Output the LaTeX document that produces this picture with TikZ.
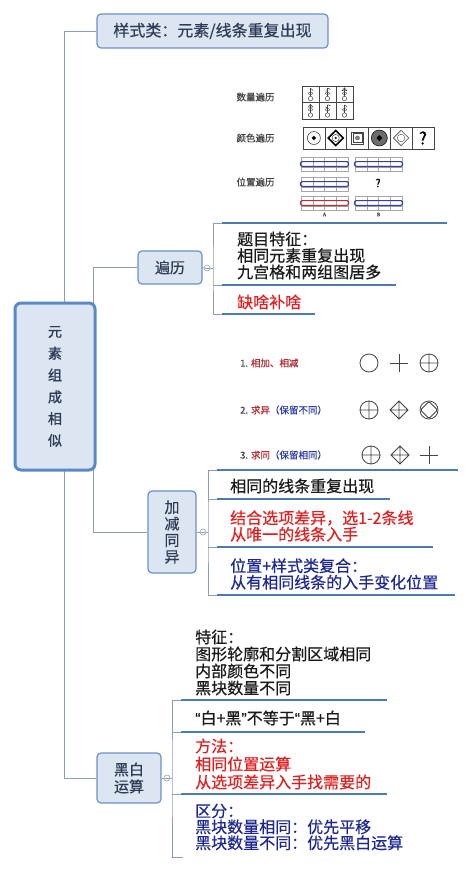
\documentclass[tikz,border=0pt]{standalone}
\usepackage{fontspec}
\setmainfont{Noto Sans CJK SC}[FakeBold=0.5]
\newfontfamily\cjkbold[FakeBold=1.3]{Noto Sans CJK SC}
\newfontfamily\quotefont[FakeBold=0.5]{Liberation Sans}
\definecolor{boxfill}{HTML}{DCE6F3}
\definecolor{boxline}{HTML}{6A92C6}
\definecolor{mainline}{HTML}{5B88C6}
\definecolor{boxtext}{HTML}{2F3B55}
\definecolor{ulcol}{HTML}{4E7AB2}
\definecolor{conncol}{HTML}{8D9DB5}
\definecolor{tred}{HTML}{E02020}
\definecolor{tblue}{HTML}{1C2890}
\definecolor{tblack}{HTML}{1A1A1A}
\definecolor{sred}{HTML}{B03038}
\definecolor{sblue}{HTML}{3A3F9A}
\definecolor{ink}{HTML}{444444}
\definecolor{smallblue}{HTML}{3040A0}
\begin{document}
\begin{tikzpicture}[x=1pt,y=-1pt,
  topic/.style={draw=boxline, fill=boxfill, rounded corners=4pt, line width=1.2pt,
    inner sep=0pt, text=boxtext, align=center},
  conn/.style={draw=conncol, line width=0.8pt},
  uline/.style={draw=ulcol, line width=2.4pt},
  collapse/.style={circle, draw=conncol, fill=white, line width=0.6pt, minimum size=6pt, inner sep=0pt,
    path picture={\draw[conncol, line width=0.5pt] ([xshift=1.3pt]path picture bounding box.west) -- ([xshift=-1.3pt]path picture bounding box.east);}},
  body/.style={anchor=west, inner sep=0pt, align=left, font=\fontsize{16}{16.5}\selectfont},
  small/.style={inner sep=0pt, font=\fontsize{9.5}{11}\selectfont, text=ink},
  sh/.style={draw=ink, line width=0.8pt},
  gline/.style={draw=gray!70, line width=0.35pt}]
\useasboundingbox (0,0) rectangle (474,872);

% ---------- main topics ----------
\node[topic, minimum width=231pt, minimum height=34pt, font=\fontsize{16}{18}\selectfont] (top) at (212.5,31) {样式类：元素/线条重复出现};
\node[topic, minimum width=64pt, minimum height=33pt, font=\fontsize{15}{17}\selectfont] (bl) at (170,267.5) {遍历};
\node[topic, minimum width=48pt, minimum height=82pt, font=\fontsize{15}{16.5}\selectfont] (jj) at (172,532) {加\\减\\同\\异};
\node[topic, minimum width=64pt, minimum height=50pt, font=\fontsize{15}{17}\selectfont] (bw) at (129,778) {黑白\\运算};

% trunk connectors (behind main box)
\draw[conn] (top.west) -- ++(-32,0) |- (bw.west);
\draw[conn] (bl.west) -- ++(-44,0) |- (jj.west);

\node[topic, draw=mainline, line width=3pt, rounded corners=6pt, minimum width=80pt, minimum height=167pt,
  font=\cjkbold\fontsize{14}{21.8}\selectfont] (main) at (55,386.5) {元\\素\\组\\成\\相\\似};

% ---------- 遍历 branch ----------
\node[collapse] (c1) at (207,268) {};
\draw[conn] (bl.east) -- (c1.west);
\coordinate (k1) at (213,268);
\coordinate (u1) at (222,223);
\coordinate (u2) at (222,285);
\coordinate (u3) at (222,314);
\draw[conn] (c1.east) -- (k1);
\draw[conn] (u1) -| (k1) |- (u3);
\draw[conn] (u2) -- (u2 -| k1);
\draw[uline] (u1) -- (447,223);
\draw[uline] (u2) -- (396,285);
\draw[uline] (u3) -- (315,314);

\node[body, text=tblack] (t11) at (237,255.5) {题目特征：\\相同元素重复出现\\九宫格和两组图居多};
\node[body, text=tred] (t12) at (237,302) {缺啥补啥};

% image of 遍历
\node[small] (l1) at (255.5,97) {数量遍历};
\node[small] (l2) at (255.5,138) {颜色遍历};
\node[small] (l3) at (255.5,182) {位置遍历};

\draw[draw=ink, line width=0.6pt] (302,86) rectangle (353,119);
\draw[draw=ink, line width=0.5pt] (319,86) -- (319,119) (336,86) -- (336,119) (302,102.5) -- (353,102.5);
\foreach \cx/\cy/\v in {310.5/94.25/0, 327.5/94.25/1, 344.5/94.25/2, 310.5/110.75/2, 327.5/110.75/1, 344.5/110.75/0} {
  \draw[ink, line width=0.5pt] (\cx,\cy+4.3) circle (2.2pt);
  \draw[ink, line width=0.5pt] (\cx,\cy+2.1) -- (\cx,\cy-6);
  \draw[ink, line width=0.5pt] (\cx,\cy-1) ellipse (2pt and 1.3pt);
  \ifnum\v=0 \draw[ink, line width=0.5pt] (\cx,\cy-6) -- (\cx+2.8,\cy-3.6); \fi
  \ifnum\v=1 \draw[ink, line width=0.5pt] (\cx,\cy-6) -- (\cx+3,\cy-5) (\cx-2,\cy-3.5) -- (\cx,\cy-3); \fi
  \ifnum\v=2 \draw[ink, line width=0.5pt] (\cx-2.5,\cy-3.5) -- (\cx,\cy-6.5) -- (\cx+2.5,\cy-3.5) -- cycle; \fi
}

\draw[draw=ink, line width=0.6pt] (303,127) rectangle (434,149);
\foreach \k in {1,...,5} \draw[draw=ink, line width=0.5pt] (303+21.83*\k,127) -- (303+21.83*\k,149);
% cell 1
\draw[ink, line width=0.6pt] (313.9,138) circle (6.5pt);
\fill[black] (311.6,138) -- (313.9,135.7) -- (316.2,138) -- (313.9,140.3) -- cycle;
% cell 2
\draw[black, line width=1.6pt] (328.2,138) -- (335.7,130.5) -- (343.2,138) -- (335.7,145.5) -- cycle;
\draw[ink, fill=white, line width=0.5pt] (335.7,138) circle (3.6pt);
\fill[black] (335.7,138) circle (1.2pt);
% cell 3
\draw[ink, line width=0.7pt] (351.5,132) rectangle (363.5,144);
\draw[ink, line width=0.4pt] (353,133.5) rectangle (362,142.5);
\fill[gray] (357.5,138) circle (2.4pt);
% cell 4
\fill[gray!85!black] (379.3,138) circle (8pt);
\draw[black, line width=0.5pt] (379.3,138) circle (8pt);
\fill[black] (376.3,138) -- (379.3,135) -- (382.3,138) -- (379.3,141) -- cycle;
% cell 5
\draw[ink, line width=0.6pt] (393.4,138) -- (401.1,130.3) -- (408.8,138) -- (401.1,145.7) -- cycle;
\draw[ink, line width=0.4pt] (401.1,138) circle (3.8pt);
% cell 6
\node[inner sep=0pt, font=\fontsize{17}{17}\selectfont, text=black] (q1) at (422.9,138) {?};

\foreach \sx/\sy/\sc in {301/157/sblue, 355/157/sblue, 301/177/sblue, 301/196/sred, 355/196/sblue} {
  \draw[gline] (\sx,\sy) rectangle (\sx+47,\sy+14);
  \draw[gline] (\sx,\sy+4) -- (\sx+47,\sy+4) (\sx,\sy+10) -- (\sx+47,\sy+10);
  \foreach \k in {1,2,3} \draw[gline] (\sx+11.75*\k,\sy) -- (\sx+11.75*\k,\sy+14);
  \draw[\sc, line width=1.2pt, rounded corners=2pt] (\sx-0.5,\sy+4.6) rectangle (\sx+47.5,\sy+9.4);
}
\node[inner sep=0pt, font=\fontsize{11}{11}\selectfont, text=black] (q2) at (378,183) {?};
\node[inner sep=0pt, font=\fontsize{5}{5}\selectfont, text=ink] (la) at (324.5,214.5) {A};
\node[inner sep=0pt, font=\fontsize{5}{5}\selectfont, text=ink] (lb) at (378.5,214.5) {B};

% ---------- 加减同异 branch ----------
\node[collapse] (c2) at (203,532) {};
\draw[conn] (jj.east) -- (c2.west);
\coordinate (k2) at (208,532);
\coordinate (v1) at (217,470);
\coordinate (v2) at (217,499);
\coordinate (v3) at (217,547);
\coordinate (v4) at (217,595);
\draw[conn] (c2.east) -- (k2);
\draw[conn] (v1) -| (k2) |- (v4);
\draw[conn] (v2) -- (v2 -| k2);
\draw[conn] (v3) -- (v3 -| k2);
\draw[uline] (v1) -- (458,470);
\draw[uline] (v2) -- (390,499);
\draw[uline] (v3) -- (433,547);
\draw[uline] (v4) -- (455,595);

\node[body, text=tblack] (t21) at (230,486) {相同的线条重复出现};
\node[body, text=tred] (t22) at (230,526) {结合选项差异，选1-2条线\\从唯一的线条入手};
\node[body, text=tblue] (t23) at (230,574) {位置+样式类复合：\\从有相同线条的入手变化位置};

% image of 加减同异
\node[small, anchor=west] (m1) at (240,363) {1. \textcolor{sred}{相加、相减}};
\node[small, anchor=west] (m2) at (240,410) {2. \textcolor{sred}{求异}\textcolor{smallblue}{（保留不同）}};
\node[small, anchor=west] (m3) at (240,455) {3. \textcolor{sred}{求同}\textcolor{smallblue}{（保留相同）}};

% row 1
\draw[sh] (369,363) circle (9pt);
\draw[sh] (390,363) -- (408,363) (399,354) -- (399,372);
\draw[sh] (429,363) circle (9pt) (420,363) -- (438,363) (429,354) -- (429,372);
% row 2
\draw[sh] (369,410) circle (9pt) (360,410) -- (378,410) (369,401) -- (369,419);
\draw[sh] (390,410) -- (399,401) -- (408,410) -- (399,419) -- cycle (390,410) -- (408,410) (399,401) -- (399,419);
\draw[sh] (429,410) circle (9pt);
\draw[sh, rounded corners=1.5pt] (420.5,410) -- (429,401.5) -- (437.5,410) -- (429,418.5) -- cycle;
% row 3
\draw[sh] (371,455) circle (9pt) (362,455) -- (380,455) (371,446) -- (371,464);
\draw[sh] (391,455) -- (400,446) -- (409,455) -- (400,464) -- cycle (391,455) -- (409,455) (400,446) -- (400,464);
\draw[sh] (420,455) -- (438,455) (429,446) -- (429,464);

% ---------- 黑白运算 branch ----------
\node[collapse] (c3) at (167,778) {};
\draw[conn] (bw.east) -- (c3.west);
\coordinate (k3) at (172,778);
\coordinate (w1) at (181,700);
\coordinate (w2) at (181,732);
\coordinate (w3) at (181,794);
\coordinate (w4) at (183,857);
\draw[conn] (c3.east) -- (k3);
\draw[conn] (w1) -| (k3) |- (w4);
\draw[conn] (w2) -- (w2 -| k3);
\draw[conn] (w3) -- (w3 -| k3);
\draw[uline] (w1) -- (387,700);
\draw[uline] (w2) -- (365,732);
\draw[uline] (w3) -- (387,794);

\node[body, text=tblack, font=\fontsize{16}{17}\selectfont] (t31) at (195,662.5) {特征：\\图形轮廓和分割区域相同\\内部颜色不同\\黑块数量不同};
\node[body, text=tblack] (t32) at (195,718) {{\quotefont “}白+黑{\quotefont ”}不等于{\quotefont “}黑+白};
\node[body, text=tred, font=\fontsize{16}{18}\selectfont] (t33) at (195,764) {方法：\\相同位置运算\\从选项差异入手找需要的};
\node[body, text=tblue, font=\fontsize{16}{16}\selectfont] (t34) at (195,827) {区分：\\黑块数量相同：优先平移\\黑块数量不同：优先黑白运算};
\end{tikzpicture}
\end{document}
